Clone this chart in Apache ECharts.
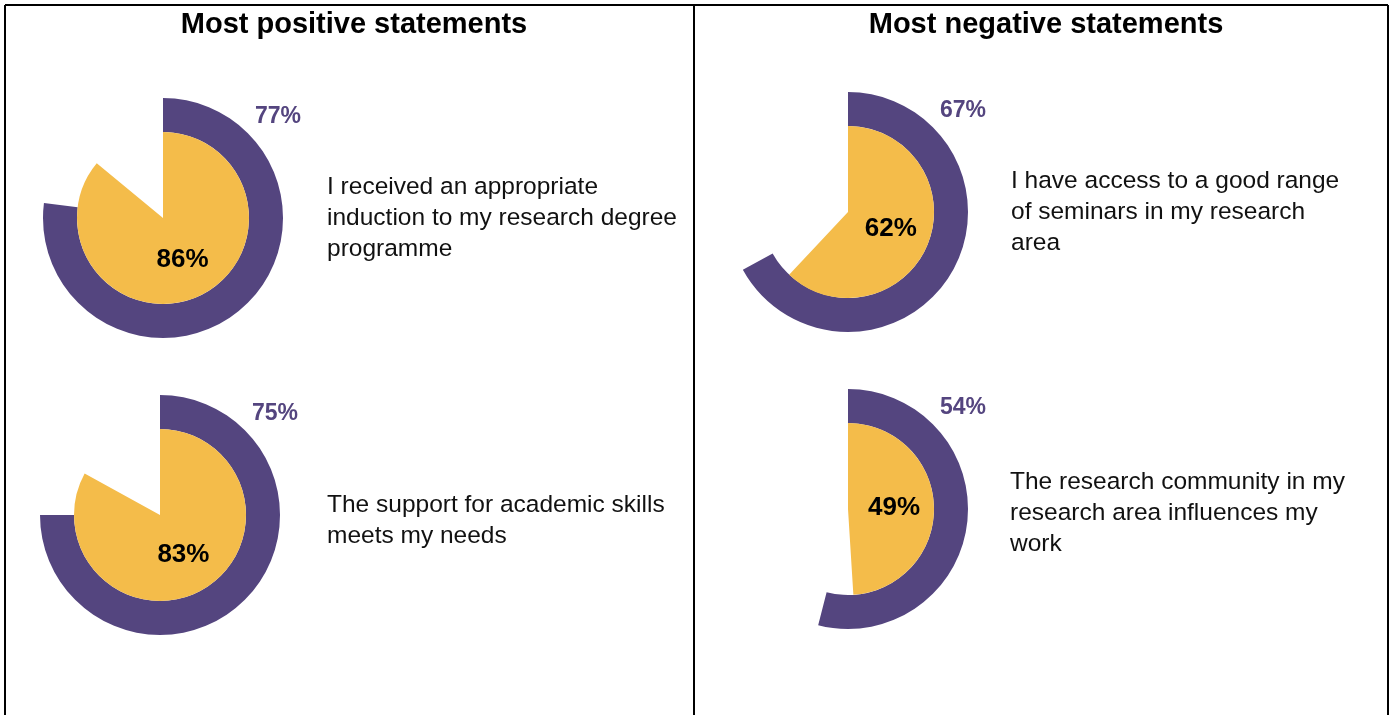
<!DOCTYPE html>
<html>
<head>
<meta charset="utf-8">
<script src="https://cdn.jsdelivr.net/npm/echarts@6/dist/echarts.min.js"></script>
<style>
html,body{margin:0;padding:0;background:#fff;}
#c{width:1390px;height:715px;}
</style>
</head>
<body>
<div id="c"></div>
<script>
// ---- data ----
const panelTitles = ['Most positive statements', 'Most negative statements'];
const statements = [
  ['I received an appropriate', 'induction to my research degree', 'programme'],
  ['The support for academic skills', 'meets my needs'],
  ['I have access to a good range', 'of seminars in my research', 'area'],
  ['The research community in my', 'research area influences my', 'work']
];
const outerValues = [77, 75, 67, 54];   // purple ring
const innerValues = [86, 83, 62, 49];   // yellow pie

// ---- layout ----
const centers = [[163, 218], [160, 515], [848, 212], [848, 509]];
const textPos = [[327, 187], [327, 505], [1011, 181], [1010, 482]];
const PURPLE = '#54457F', YELLOW = '#F4BC4A';
const R_IN = 86, R_OUT = 120;
const FONT = 'Liberation Sans, Arial, sans-serif';

const series = [];
const graphic = [];
centers.forEach((c, i) => {
  series.push({
    type: 'pie', silent: true, animation: false,
    center: c, radius: [R_IN, R_OUT], startAngle: 90, clockwise: true,
    label: {show: false}, labelLine: {show: false},
    data: [
      {value: outerValues[i], itemStyle: {color: PURPLE}},
      {value: 100 - outerValues[i], itemStyle: {color: 'rgba(0,0,0,0)'}}
    ]
  });
  series.push({
    type: 'pie', silent: true, animation: false,
    center: c, radius: [0, R_IN], startAngle: 90, clockwise: true,
    labelLine: {show: false},
    data: [
      {value: innerValues[i], itemStyle: {color: YELLOW},
       label: {show: true, position: 'inside', formatter: innerValues[i] + '%',
               color: '#000', fontSize: 26, fontWeight: 'bold', fontFamily: FONT}},
      {value: 100 - innerValues[i], itemStyle: {color: 'rgba(0,0,0,0)'}, label: {show: false}}
    ]
  });
  graphic.push({
    type: 'text', x: c[0] + 115, y: c[1] - 101, silent: true,
    style: {text: outerValues[i] + '%', fill: PURPLE, font: 'bold 23px ' + FONT,
            textAlign: 'center', textVerticalAlign: 'middle'}
  });
  statements[i].forEach((line, j) => {
    graphic.push({
      type: 'text', x: textPos[i][0], y: textPos[i][1] + j * 31, silent: true,
      style: {text: line, fill: '#111', font: '24.5px ' + FONT,
              textAlign: 'left', textVerticalAlign: 'middle'}
    });
  });
});

// frame lines
const lines = [
  [5, 5, 1388, 5], [5, 5, 5, 715], [694, 5, 694, 715], [1388, 5, 1388, 715]
];
lines.forEach(l => graphic.push({
  type: 'line', silent: true,
  shape: {x1: l[0], y1: l[1], x2: l[2], y2: l[3]},
  style: {stroke: '#000', lineWidth: 2}
}));

const chart = echarts.init(document.getElementById('c'), null, {renderer: 'canvas'});
chart.setOption({
  animation: false,
  backgroundColor: '#fff',
  title: [
    {text: panelTitles[0], left: 349, top: 5, textAlign: 'center',
     textStyle: {fontSize: 29, fontWeight: 'bold', color: '#000', fontFamily: FONT}},
    {text: panelTitles[1], left: 1041, top: 5, textAlign: 'center',
     textStyle: {fontSize: 29, fontWeight: 'bold', color: '#000', fontFamily: FONT}}
  ],
  series: series,
  graphic: graphic
});
</script>
</body>
</html>
